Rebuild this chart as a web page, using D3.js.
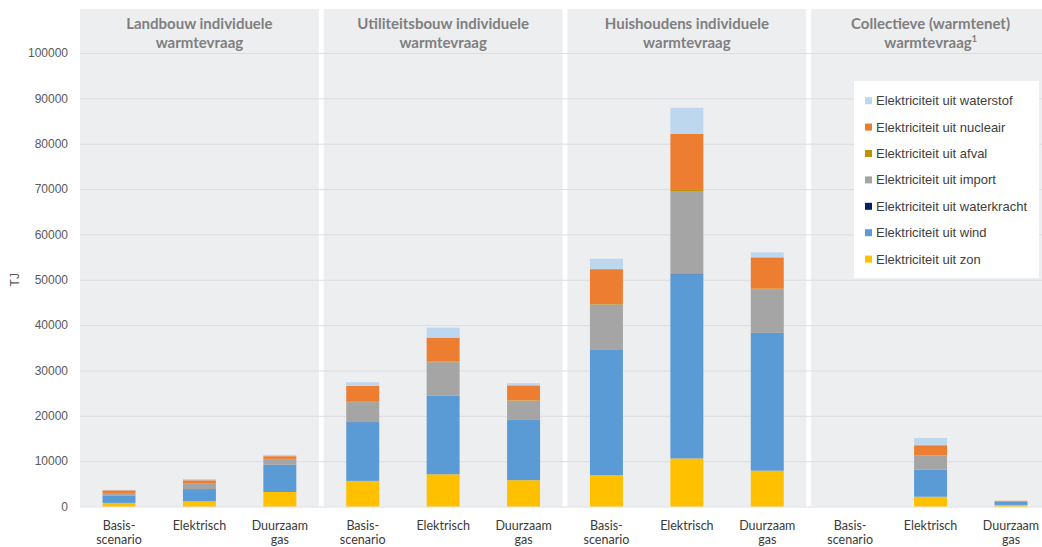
<!DOCTYPE html>
<html>
<head>
<meta charset="utf-8">
<script src="https://cdn.jsdelivr.net/npm/d3@7"></script>
<style>
  html, body { margin: 0; padding: 0; background: #ffffff; }
  svg { display: block; }
</style>
</head>
<body>
<svg id="chart" width="1042" height="547"></svg>
<script>
// Sector panels and the three scenarios shown in each
const panels = [
  ["Landbouw individuele", "warmtevraag"],
  ["Utiliteitsbouw individuele", "warmtevraag"],
  ["Huishoudens individuele", "warmtevraag"],
  ["Collectieve (warmtenet)", "warmtevraag"]
];
const panelFootnote = [null, null, null, "1"];
const scenarios = [["Basis-", "scenario"], ["Elektrisch"], ["Duurzaam", "gas"]];

// Electricity sources (TJ), 12 values each: 4 panels x 3 scenarios
const zon         = [800, 1150, 3200,   5650, 7100, 5800,   6900, 10600, 7900,   0, 2150, 350];
const wind        = [1650, 2700, 6000,  12950, 17300, 13400, 27700, 40600, 30400, 0, 5950, 650];
const waterkracht = [0, 0, 0,           20, 30, 20,         40, 60, 40,          0, 20, 0];
const importEl    = [500, 1150, 1250,   4400, 7400, 4100,   9900, 18300, 9600,   0, 3100, 100];
const afval       = [20, 30, 50,        80, 120, 80,        100, 250, 100,       0, 40, 10];
const nucleair    = [600, 750, 600,     3500, 5300, 3300,   7700, 12400, 6900,   0, 2250, 150];
const waterstof   = [100, 300, 300,     800, 2200, 500,     2300, 5700, 1100,    0, 1600, 0];

const yTicks = [0, 10000, 20000, 30000, 40000, 50000, 60000, 70000, 80000, 90000, 100000];

// Stack order bottom to top; legend lists them top to bottom
const seriesDefs = [
  { key: "zon",         label: "Elektriciteit uit zon",         color: "#FFC000", values: zon },
  { key: "wind",        label: "Elektriciteit uit wind",        color: "#5B9BD5", values: wind },
  { key: "waterkracht", label: "Elektriciteit uit waterkracht", color: "#002060", values: waterkracht },
  { key: "import",      label: "Elektriciteit uit import",      color: "#A5A5A5", values: importEl },
  { key: "afval",       label: "Elektriciteit uit afval",       color: "#BF9000", values: afval },
  { key: "nucleair",    label: "Elektriciteit uit nucleair",    color: "#ED7D31", values: nucleair },
  { key: "waterstof",   label: "Elektriciteit uit waterstof",   color: "#BDD7EE", values: waterstof }
];

const rows = [];
panels.forEach((p, pi) => {
  scenarios.forEach((s, si) => {
    const row = { panel: pi, scenario: si };
    seriesDefs.forEach(d => { row[d.key] = d.values[pi * 3 + si]; });
    rows.push(row);
  });
});

const svg = d3.select("#chart");
const W = 1042;

const y = d3.scaleLinear().domain([0, 100000]).range([506.5, 53]);
const xPanel = d3.scaleBand().domain(d3.range(panels.length)).range([80, 1050]).paddingInner(0.02).paddingOuter(0);
const xScen = d3.scaleBand().domain(d3.range(scenarios.length)).range([0, xPanel.bandwidth()]).paddingInner(0.59).paddingOuter(0.28);

// Panel backgrounds
svg.append("g").selectAll("rect").data(d3.range(panels.length)).join("rect")
  .attr("x", d => xPanel(d))
  .attr("y", 9)
  .attr("width", xPanel.bandwidth())
  .attr("height", y(0) - 9)
  .attr("fill", "#EDEEF0");

// Horizontal gridlines
const yAxis = d3.axisLeft(y).tickValues(yTicks).tickSize(-(W - 80)).tickPadding(12).tickFormat(d3.format("d"));
const yg = svg.append("g").attr("transform", "translate(80,0)").call(yAxis);
yg.select(".domain").remove();
yg.selectAll(".tick line").attr("stroke", "#DCDDE0").attr("stroke-width", 1);
yg.selectAll(".tick text")
  .attr("fill", "#595959")
  .style("font-family", "'Liberation Sans', Arial, sans-serif")
  .style("font-size", "12px");

// Axis title
svg.append("text")
  .attr("transform", `translate(19,${y(50000)}) rotate(-90)`)
  .attr("text-anchor", "middle")
  .attr("fill", "#595959")
  .style("font-family", "'Liberation Sans', Arial, sans-serif")
  .style("font-size", "12px")
  .text("TJ");

// Panel headers
const headers = svg.append("g").selectAll("text").data(panels).join("text")
  .attr("text-anchor", "middle")
  .attr("fill", "#7F7F7F")
  .style("font-family", "Lato, 'Open Sans', sans-serif")
  .style("font-weight", "700")
  .style("font-size", "15px");
headers.each(function (lines, i) {
  const t = d3.select(this);
  const cx = xPanel(i) + xPanel.bandwidth() / 2;
  lines.forEach((ln, li) => {
    t.append("tspan").attr("x", cx).attr("y", 29 + li * 18.5).text(ln);
    if (li === lines.length - 1 && panelFootnote[i]) {
      t.append("tspan").attr("dy", -6).style("font-size", "9px").text(panelFootnote[i]);
    }
  });
});

// Stacked bars
const stack = d3.stack().keys(seriesDefs.map(d => d.key));
const stacked = stack(rows);
const colorOf = Object.fromEntries(seriesDefs.map(d => [d.key, d.color]));

const barX = r => xPanel(r.panel) + xScen(r.scenario);
svg.append("g").selectAll("g").data(stacked).join("g")
  .attr("fill", s => colorOf[s.key])
  .selectAll("rect").data(s => s.filter(d => d[1] - d[0] > 0)).join("rect")
  .attr("x", d => barX(d.data))
  .attr("width", xScen.bandwidth())
  .attr("y", d => y(d[1]))
  .attr("height", d => y(d[0]) - y(d[1]));

// Scenario labels under each bar
const catG = svg.append("g")
  .attr("fill", "#3A3A3A")
  .style("font-family", "Lato, 'Open Sans', sans-serif")
  .style("font-size", "12.5px");
rows.forEach(r => {
  const cx = barX(r) + xScen.bandwidth() / 2;
  const t = catG.append("text").attr("text-anchor", "middle");
  scenarios[r.scenario].forEach((ln, li) => {
    t.append("tspan").attr("x", cx).attr("y", 530 + li * 13.5).text(ln);
  });
});

// Legend
const lg = svg.append("g");
lg.append("rect")
  .attr("x", 854).attr("y", 81).attr("width", 185).attr("height", 197)
  .attr("fill", "#ffffff");
const legendItems = seriesDefs.slice().reverse();
const li = lg.selectAll("g.item").data(legendItems).join("g")
  .attr("class", "item")
  .attr("transform", (d, i) => `translate(865,${100.7 + i * 26.4})`);
li.append("rect")
  .attr("x", 0).attr("y", -3.5).attr("width", 7).attr("height", 7)
  .attr("fill", d => d.color);
li.append("text")
  .attr("x", 11).attr("dy", "0.35em")
  .attr("fill", "#404040")
  .style("font-family", "'Liberation Sans', Arial, sans-serif")
  .style("font-size", "13px")
  .text(d => d.label);
</script>
</body>
</html>
